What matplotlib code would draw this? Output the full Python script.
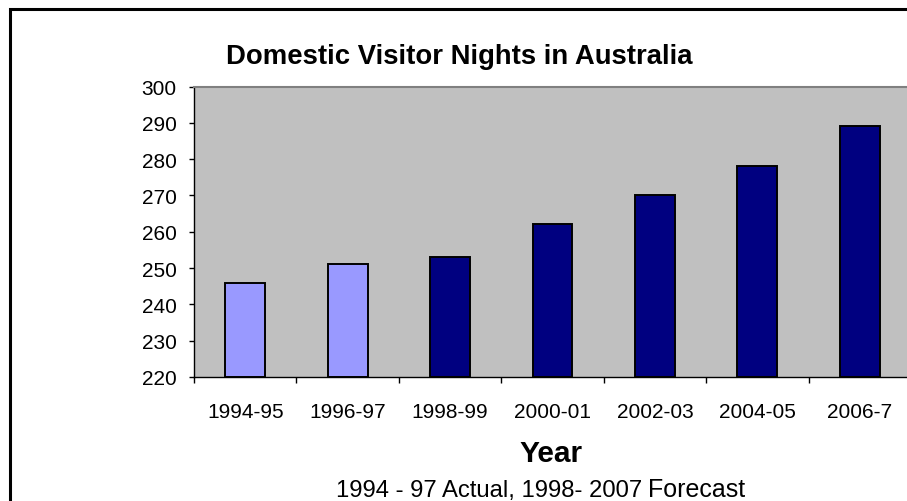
import matplotlib
matplotlib.use("Agg")
import matplotlib.pyplot as plt
from matplotlib.patches import Rectangle
import numpy as np

plt.rcParams['font.family'] = ['Liberation Sans', 'DejaVu Sans']

# --- data ---
years = ["1994-95", "1996-97", "1998-99", "2000-01", "2002-03", "2004-05", "2006-7"]
nights = [246, 251, 253, 262, 270, 278, 289]
is_actual = [True, True, False, False, False, False, False]
y_ticks = [220, 230, 240, 250, 260, 270, 280, 290, 300]

ACTUAL_COLOR = "#9999FF"
FORECAST_COLOR = "#000080"
PLOT_BG = "#C0C0C0"

fig = plt.figure(figsize=(9.07, 5.02), dpi=100)
fig.patch.set_facecolor("white")

# outer chart frame (right and bottom edges fall outside the image)
fig.patches.append(Rectangle((9.5 / 907, -0.2), 1.2, 0.2 + (502 - 10) / 502,
                             transform=fig.transFigure, fill=False,
                             edgecolor="black", linewidth=2.2))

ax = fig.add_axes([194 / 907, 124 / 502, 717 / 907, 290.5 / 502])
ax.set_facecolor(PLOT_BG)

x = np.arange(len(years))
colors = [ACTUAL_COLOR if a else FORECAST_COLOR for a in is_actual]
ax.bar(x, np.array(nights) - y_ticks[0], bottom=y_ticks[0], width=0.39,
       color=colors, edgecolor="black", linewidth=1.4, zorder=2)

ax.set_xlim(-0.5, len(years) - 0.5)
ax.set_ylim(y_ticks[0], y_ticks[-1])
ax.set_yticks(y_ticks)
ax.tick_params(axis="y", direction="out", length=3.5, width=1, pad=9,
               labelsize=15, color="black")

# tick marks between categories, labels centred on categories
ax.set_xticks(np.arange(len(years) + 1) - 0.5)
ax.set_xticklabels([])
ax.set_xticks(x, minor=True)
ax.set_xticklabels(years, minor=True)
ax.tick_params(axis="x", which="major", direction="out", length=4, width=1)
ax.tick_params(axis="x", which="minor", length=0, pad=18, labelsize=15)

for side in ("top", "right"):
    ax.spines[side].set_color("#808080")
    ax.spines[side].set_linewidth(1.5)
for side in ("left", "bottom"):
    ax.spines[side].set_color("black")
    ax.spines[side].set_linewidth(1.0)

fig.text(459 / 907, 438 / 502, "Domestic Visitor Nights in Australia",
         ha="center", va="baseline", fontsize=19.8, fontweight="bold")
fig.text(551 / 907, 40 / 502, "Year", ha="center", va="baseline",
         fontsize=21.5, fontweight="bold")
fig.text(642 / 907, 5 / 502, "1994 - 97 Actual, 1998- 2007",
         ha="right", va="baseline", fontsize=17.2)
fig.text(648 / 907, 5 / 502, "Forecast",
         ha="left", va="baseline", fontsize=18)

fig.savefig("out.png", dpi=100)
